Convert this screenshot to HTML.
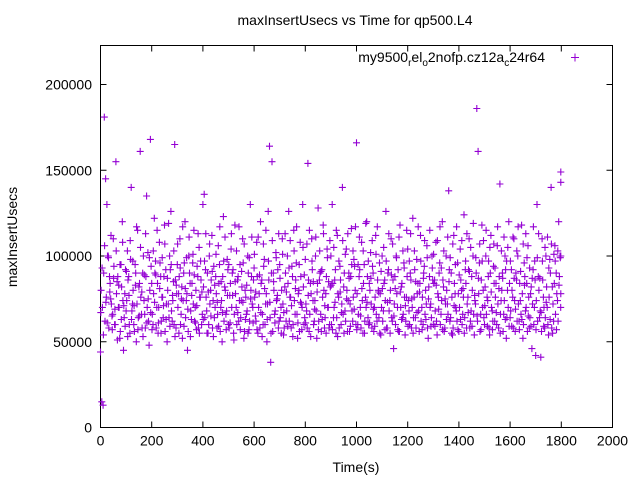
<!DOCTYPE html>
<html><head><meta charset="utf-8"><style>
html,body{margin:0;padding:0;background:#fff;}
svg{display:block;font-family:"Liberation Sans",Arial,sans-serif;}
</style></head><body>
<svg id="chart" width="640" height="480" viewBox="0 0 640 480">
<rect width="640" height="480" fill="#fff"/>
<text x="355" y="25" font-size="14" text-anchor="middle">maxInsertUsecs vs Time for qp500.L4</text>
<text x="356" y="472" font-size="14" text-anchor="middle">Time(s)</text>
<text x="17" y="237" font-size="14" text-anchor="middle" transform="rotate(-90 17 237)">maxInsertUsecs</text>
<g id="axes"></g>
<g id="points"></g>
<g>
<text x="545" y="62" font-size="14" text-anchor="end">my9500<tspan font-size="10" dy="4">r</tspan><tspan dy="-4">el</tspan><tspan font-size="10" dy="4">o</tspan><tspan dy="-4">2nofp.cz12a</tspan><tspan font-size="10" dy="4">c</tspan><tspan dy="-4">24r64</tspan></text>
<path d="M571 57.5h8M575 53.5v8" stroke="#9400d3" stroke-width="1"/>
</g>
</svg>
<script>
const xTicks = [0,200,400,600,800,1000,1200,1400,1600,1800,2000];
const yTicks = [0,50000,100000,150000,200000];
const yMain = [44,15,13,181,145,130,100,88,75,65,110,60,155,85,70,52,95,120,45,78,
68,103,88,55,140,72,60,95,50,115,82,161,66,90,74,58,135,102,48,168,
84,60,122,97,70,55,108,88,76,64,118,92,50,72,100,126,62,85,165,58,
95,78,110,66,52,90,120,74,45,100,84,63,96,115,70,57,88,105,76,60,
130,136,92,68,55,100,80,112,74,64,88,58,106,95,70,50,123,82,66,98,
60,77,104,90,55,118,70,86,62,95,74,110,52,80,66,100,57,130,88,70,
93,65,108,55,78,120,86,60,98,72,50,126,164,38,155,90,66,102,75,58,
95,70,110,54,82,62,100,126,76,58,88,115,66,96,52,80,108,72,130,60,
98,68,154,56,84,110,74,62,100,52,128,86,66,92,118,58,78,104,70,60,
100,130,64,86,55,112,76,94,60,140,82,68,104,56,90,72,116,62,98,80,
166,60,88,70,108,55,95,76,120,64,84,102,58,90,70,112,62,80,96,54,
100,68,86,126,58,92,74,110,62,46,88,100,70,56,118,82,64,96,54,76,
104,68,90,58,122,76,64,98,84,56,112,70,60,94,80,106,52,88,72,100,
60,86,108,54,76,96,66,120,82,58,100,72,138,62,90,54,112,78,68,96,
56,104,80,66,124,92,58,76,110,62,88,100,54,72,186,161,96,66,118,80,
60,100,76,88,54,112,68,94,62,84,106,58,142,74,90,66,100,52,80,120,
64,92,76,110,56,86,100,62,74,118,52,96,68,84,106,58,78,46,92,70,
42,130,88,64,41,110,76,58,100,70,54,98,140,82,62,106,90,74,120,100,
149,143,78,100];
const ySecond = [80,70,90,62,76,100,58,84,72,66,94,60,78,88,70,56,82,74,64,92,
74,86,60,98,68,80,56,90,72,64,84,76,58,100,66,88,70,62,80,94,
66,78,90,58,84,70,96,62,76,88,56,72,80,64,92,68,74,60,86,78,
70,88,60,82,74,96,64,78,56,90,68,84,72,62,80,94,58,76,86,66,
82,64,76,90,60,72,86,58,94,70,78,66,84,56,74,88,62,80,68,92,
58,84,70,92,66,78,60,88,74,64,82,96,56,76,68,90,62,80,72,86,
76,62,88,70,58,84,66,94,60,78,72,86,64,90,56,80,68,74,92,62,
64,80,72,58,90,68,84,62,76,94,60,74,86,66,78,56,88,70,82,64,
72,58,86,66,78,92,60,74,68,84,62,90,56,76,80,64,88,70,58,82,
60,84,70,92,64,78,58,86,72,66,90,62,80,74,56,88,68,76,94,60,
78,66,92,58,74,84,62,70,88,60,80,72,94,56,76,66,86,64,78,70,
62,84,74,58,90,68,80,64,86,72,60,78,92,56,70,84,66,76,62,88,
74,60,86,70,64,92,58,78,68,84,62,76,90,66,72,58,82,70,64,86,
84,68,62,78,90,60,74,86,56,72,80,66,92,64,76,58,84,70,62,78,
70,86,60,76,64,84,72,92,58,68,80,66,74,90,62,78,56,86,70,64,
82,66,74,58,90,70,62,84,76,60,72,88,66,80,56,74,92,64,70,84,
68,80,58,74,90,62,72,84,66,78,60,88,70,56,76,64,82,72,60,86,
74,62,80,68,56,86,70,64,82,60,76,90,58,72,84,66,78,62,88,70];
const yThird = [67,93,54,106,73,61,99,79,112,57,87,69,103,51,83,95,63,108,71,59,
91,53,77,109,63,97,71,83,117,57,65,105,79,53,89,113,61,75,99,67,
57,103,73,89,115,61,81,55,99,71,107,63,87,119,59,95,77,103,53,83,
107,55,93,75,117,59,81,99,69,111,53,77,101,89,61,71,113,55,97,79,
63,97,113,55,79,107,65,91,53,83,101,73,59,117,85,67,97,111,57,77,
95,61,113,77,51,85,103,67,117,57,91,73,107,63,83,55,99,75,111,61,
101,79,57,111,89,67,53,107,81,115,63,97,73,55,109,85,61,99,77,113,
87,55,101,67,113,79,59,93,109,71,53,103,81,117,61,95,73,57,105,89,
61,107,77,115,53,97,85,69,111,79,57,103,91,63,113,71,55,99,85,109,
83,57,105,73,115,53,97,79,67,109,55,101,75,113,87,59,95,103,69,117,
57,95,111,65,81,103,55,119,73,97,61,87,109,69,59,101,117,79,55,91,
81,105,57,97,73,113,55,89,107,65,81,99,57,111,79,63,103,93,71,115,
59,97,113,75,55,103,85,67,117,79,97,57,87,109,63,99,75,115,59,93,
101,59,83,109,69,117,93,57,103,75,63,111,85,99,55,107,71,95,117,57,
89,63,109,81,55,97,113,67,91,105,59,119,77,99,65,87,107,57,97,109,
71,115,59,97,105,79,57,107,93,67,117,81,55,103,87,111,63,97,105,59,
97,59,111,87,69,103,117,57,91,63,107,83,113,99,65,93,59,87,117,97,
57,99,113,87,67,97,59,105,73,111,93,63,107,55,101,97,57,103,83,99];
const sampleStep = 5;   // seconds between samples in source log
const yUnit = 1000;     // values above are in thousands of usecs

const L=100.5,R=612.5,T=45.5,B=427.5;
const X = v => L + v/2000*(R-L);
const Y = v => 427.5 - v/200000*(427.5-84.5);
const NS='http://www.w3.org/2000/svg';
function mk(tag, attrs, parent){const e=document.createElementNS(NS,tag);for(const k in attrs)e.setAttribute(k,attrs[k]);parent.appendChild(e);return e;}
const axes=document.getElementById('axes');
const frame=mk('rect',{x:L,y:T,width:R-L,height:B-T,fill:'none',stroke:'#000','stroke-width':1},axes);


xTicks.forEach(t=>{
  const x=X(t);
  const tk=mk('path',{d:`M${x} ${B}v-6M${x} ${T}v6`,stroke:'#000','stroke-width':1},axes);
  
  
  const lb=mk('text',{x:x,y:B+18,'font-size':14,'text-anchor':'middle'},axes);
  lb.textContent=t;
  
  
});
yTicks.forEach(t=>{
  const y=Y(t);
  const tk=mk('path',{d:`M${L} ${y}h6M${R} ${y}h-6`,stroke:'#000','stroke-width':1},axes);
  
  
  const lb=mk('text',{x:92,y:y+5,'font-size':14,'text-anchor':'end'},axes);
  lb.textContent=t;
  
  
});
const pts=document.getElementById('points');
let d='';
function plus(t,v){const x=X(t),y=Y(v*yUnit);d+=`M${(x-3.5).toFixed(1)} ${y.toFixed(1)}h7M${x.toFixed(1)} ${(y-3.5).toFixed(1)}v7`;}
yMain.forEach((v,i)=>plus(Math.min(i*sampleStep,1798),v));
ySecond.forEach((v,i)=>plus(i*sampleStep+2.5,v));
yThird.forEach((v,i)=>plus(i*sampleStep+1.2,v));
const p=mk('path',{d:d,stroke:'#9400d3','stroke-width':1.1,fill:'none'},pts);


</script>
</body></html>
